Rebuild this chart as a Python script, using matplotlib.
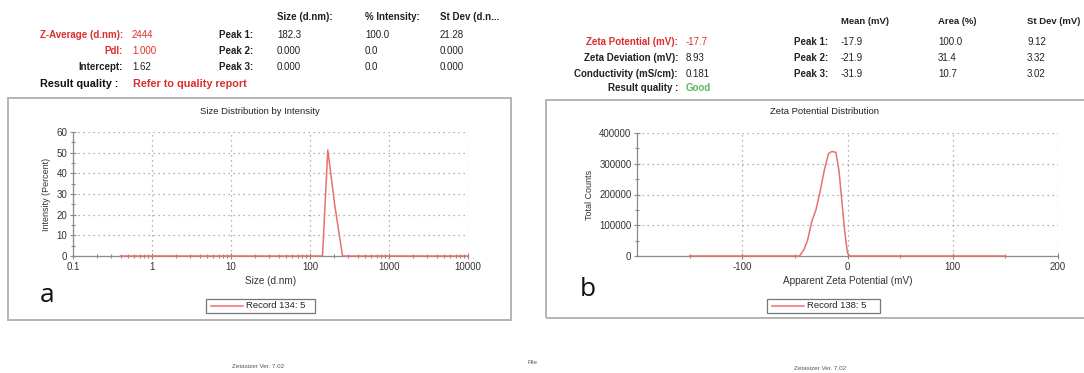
import numpy as np
import matplotlib.pyplot as plt
from matplotlib.patches import Rectangle
from matplotlib.lines import Line2D
from matplotlib.ticker import MultipleLocator, LogLocator, FixedLocator

plt.rcParams['font.family'] = ['Liberation Sans', 'DejaVu Sans']
plt.rcParams['axes.unicode_minus'] = False

# size distribution (panel a)
size_nm = [0.4, 144, 168, 205, 258, 10000]
size_int = [0, 0, 51.3, 25, 0, 0]

# zeta potential distribution (panel b)
zeta_mv = [-150, -45.6, -41.5, -38, -34, -30, -26, -22, -18, -15, -11, -8, -5, -2.3, 0, 2, 150]
zeta_counts = [0, 0, 20000, 50000, 112000, 150000, 210000, 280000, 333000, 340000,
               337000, 275000, 165000, 70000, 10000, 0, 0]

size_head = ['Size (d.nm):', '% Intensity:', 'St Dev (d.n...']
size_peaks = [['182.3', '100.0', '21.28'], ['0.000', '0.0', '0.000'], ['0.000', '0.0', '0.000']]
zeta_head = ['Mean (mV)', 'Area (%)', 'St Dev (mV)']
zeta_peaks = [['-17.9', '100.0', '9.12'], ['-21.9', '31.4', '3.32'], ['-31.9', '10.7', '3.02']]

W, H = 1084, 373
RED = '#d9302c'
LINE = '#e8716c'
GRID = '#9a9a9a'

fig = plt.figure(figsize=(W / 100, H / 100), dpi=100)
fig.patch.set_facecolor('white')


def fx(x):
    return x / W


def fy(y):
    return 1 - y / H


def txt(x, y, s, ha='left', color='#222222', size=7.0, bold=False, **kw):
    fig.text(fx(x), fy(y), s, ha=ha, va='center', color=color, fontsize=size,
             fontweight='bold' if bold else 'normal', **kw)


def add_ax(l, t, r, b):
    return fig.add_axes([fx(l), fy(b), fx(r) - fx(l), fy(t) - fy(b)])


# outer boxes
for (l, t, r, b) in [(8, 98, 511, 320), (546, 100, 1090, 318)]:
    fig.patches.append(Rectangle((fx(l), fy(b)), fx(r) - fx(l), fy(t) - fy(b),
                                 transform=fig.transFigure, fill=False,
                                 edgecolor='#b4b4b4', linewidth=1.4))

# ---- panel a header
for x, s in zip([277, 365, 440], size_head):
    txt(x, 17, s, bold=True)
txt(123, 35, 'Z-Average (d.nm):', ha='right', color=RED, bold=True)
txt(132, 35, '2444', color=RED)
txt(123, 51, 'PdI:', ha='right', color=RED, bold=True)
txt(132, 51, '1.000', color=RED)
txt(123, 67, 'Intercept:', ha='right', bold=True)
txt(132, 67, '1.62')
for i, row in enumerate(size_peaks):
    y = 35 + 16 * i
    txt(253, y, 'Peak %d:' % (i + 1), ha='right', bold=True)
    for x, s in zip([277, 365, 440], row):
        txt(x, y, s)
txt(40, 84, 'Result quality :', bold=True, size=7.8, color='#111111')
txt(133, 84, 'Refer to quality report', color=RED, bold=True, size=7.8)

# ---- panel b header
bcols = [841, 938, 1027]
for x, s in zip(bcols, zeta_head):
    txt(x, 22, s, bold=True, size=6.8)
txt(678, 42, 'Zeta Potential (mV):', ha='right', color=RED, bold=True)
txt(686, 42, '-17.7', color=RED)
txt(678, 58, 'Zeta Deviation (mV):', ha='right', bold=True)
txt(686, 58, '8.93')
txt(678, 74, 'Conductivity (mS/cm):', ha='right', bold=True)
txt(686, 74, '0.181')
txt(678, 88, 'Result quality :', ha='right', bold=True)
txt(686, 88, 'Good', color='#5cb85c', bold=True)
for i, row in enumerate(zeta_peaks):
    y = 42 + 16 * i
    txt(828, y, 'Peak %d:' % (i + 1), ha='right', bold=True)
    for x, s in zip(bcols, row):
        txt(x, y, s)


def style(ax):
    for s in ['top', 'right']:
        ax.spines[s].set_visible(False)
    for s in ['left', 'bottom']:
        ax.spines[s].set_color('#8a8a8a')
        ax.spines[s].set_linewidth(0.9)
    ax.tick_params(which='major', direction='inout', length=5, width=0.8,
                   color='#8a8a8a', labelsize=7.0, labelcolor='#333333', pad=1.5)
    ax.tick_params(which='minor', direction='inout', length=3, width=0.8, color='#8a8a8a')
    ax.grid(True, which='major', linestyle=(0, (1, 3)), color=GRID, linewidth=0.9)
    ax.set_axisbelow(True)


# ---- panel a plot
ax1 = add_ax(73, 132, 468, 256)
ax1.plot(size_nm, size_int, color=LINE, linewidth=1.1, clip_on=False, zorder=3)
ax1.set_xscale('log')
ax1.set_xlim(0.1, 10000)
ax1.set_ylim(0, 60)
ax1.xaxis.set_major_locator(FixedLocator([0.1, 1, 10, 100, 1000, 10000]))
ax1.xaxis.set_minor_locator(LogLocator(base=10, subs=np.arange(2, 10)))
ax1.set_xticklabels(['0.1', '1', '10', '100', '1000', '10000'])
ax1.yaxis.set_major_locator(MultipleLocator(10))
ax1.yaxis.set_minor_locator(MultipleLocator(5))
style(ax1)
ax1.set_xlabel('Size (d.nm)', fontsize=7.2, color='#333333', labelpad=3)
ax1.set_ylabel('Intensity (Percent)', fontsize=6.5, color='#333333', labelpad=4)
txt(260, 111, 'Size Distribution by Intensity', ha='center', size=6.8)

# ---- panel b plot
ax2 = add_ax(637, 133, 1058, 256)
ax2.plot(zeta_mv, zeta_counts, color=LINE, linewidth=1.1, clip_on=False, zorder=3)
ax2.set_xlim(-200, 200)
ax2.set_ylim(0, 400000)
ax2.xaxis.set_major_locator(FixedLocator([-100, 0, 100, 200]))
ax2.xaxis.set_minor_locator(FixedLocator([-150, -50, 50, 150]))
ax2.yaxis.set_major_locator(MultipleLocator(100000))
ax2.yaxis.set_minor_locator(MultipleLocator(50000))
style(ax2)
ax2.set_xlabel('Apparent Zeta Potential (mV)', fontsize=7.2, color='#333333', labelpad=3)
ax2.set_ylabel('Total Counts', fontsize=6.5, color='#333333', labelpad=4)
txt(824, 111, 'Zeta Potential Distribution', ha='center', size=6.8)

# legends
for (l, r, label) in [(206, 315, 'Record 134: 5'), (767, 880, 'Record 138: 5')]:
    fig.patches.append(Rectangle((fx(l), fy(313)), fx(r) - fx(l), fy(299) - fy(313),
                                 transform=fig.transFigure, facecolor='white',
                                 edgecolor='#777777', linewidth=0.9))
    fig.lines.append(Line2D([fx(l + 5), fx(l + 37)], [fy(306), fy(306)],
                            transform=fig.transFigure, color=LINE, linewidth=1.1))
    txt(l + 70, 306, label, ha='center', size=6.8)

# panel letters
txt(40, 295, 'a', size=19, family=['Open Sans', 'DejaVu Sans'], color='#111111')
txt(580, 290, 'b', size=19, family=['Open Sans', 'DejaVu Sans'], color='#111111')

# footer
txt(258, 367, 'Zetasizer Ver. 7.02', ha='center', size=4.5, color='#555555')
txt(533, 362, 'File', ha='center', size=4.5, color='#555555')
txt(820, 368, 'Zetasizer Ver. 7.02', ha='center', size=4.5, color='#555555')

fig.savefig('out.png', dpi=100)
